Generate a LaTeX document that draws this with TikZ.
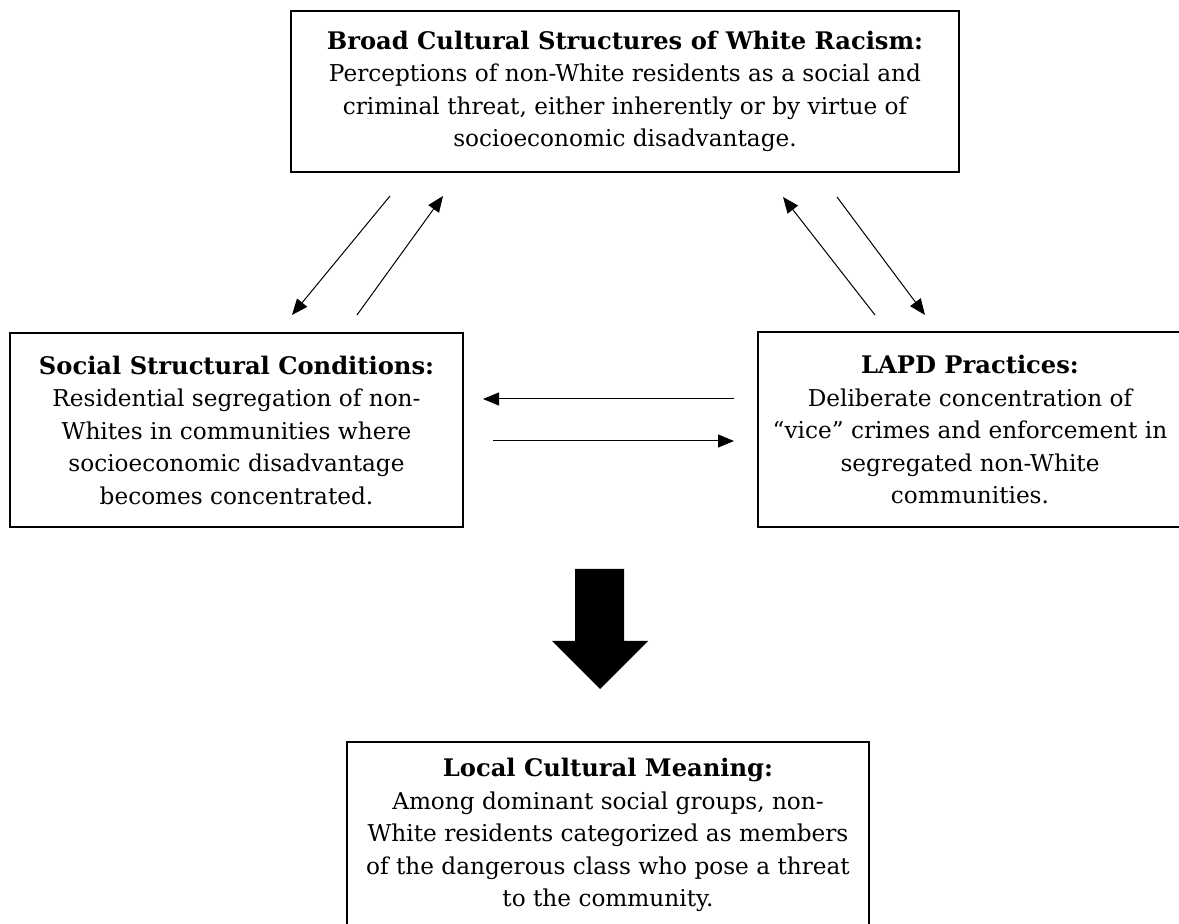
\documentclass[tikz,border=0pt]{standalone}
\usepackage{fontspec}
\setmainfont{DejaVu Serif}
\usetikzlibrary{arrows.meta}

\newcommand{\boxhead}[1]{{\fontsize{12.1}{16.25}\selectfont\textbf{#1}}}

\tikzset{
  box/.style={draw, line width=0.7pt, align=center, inner sep=0pt,
    font=\fontsize{11.6}{16.25}\selectfont},
  link/.style={line width=0.5pt, -{Triangle[length=8pt,width=6.5pt]}}
}

\begin{document}
\begin{tikzpicture}[x=0.5pt,y=-0.5pt]
            \useasboundingbox (0,0) rectangle (1179,924);
            \node[box, minimum width=334pt, minimum height=80.5pt] (racism) at (625,91.5)
              {\boxhead{Broad Cultural Structures of White Racism:}\\
               Perceptions of non-White residents as a social and\\
               criminal threat, either inherently or by virtue of\\
               socioeconomic disadvantage.};
            \node[box, minimum width=226.5pt, minimum height=97pt] (social) at (236.5,430)
              {\boxhead{Social Structural Conditions:}\\
               Residential segregation of non-\\
               Whites in communities where\\
               socioeconomic disadvantage\\
               becomes concentrated.};
            \node[box, minimum width=212pt, minimum height=97.5pt] (lapd) at (970,429.5)
              {\boxhead{LAPD Practices:}\\
               Deliberate concentration of\\
               ``vice'' crimes and enforcement in\\
               segregated non-White\\
               communities.};
            \node[box, minimum width=261pt, minimum height=93pt] (meaning) at (608,835)
              {\boxhead{Local Cultural Meaning:}\\
               Among dominant social groups, non-\\
               White residents categorized as members\\
               of the dangerous class who pose a threat\\
               to the community.};
            % arrow ends
            \coordinate (rs1) at (390,196);  \coordinate (rs2) at (292,315);
            \coordinate (sr1) at (357,315);  \coordinate (sr2) at (443,196);
            \coordinate (lr1) at (875,315);  \coordinate (lr2) at (783,197);
            \coordinate (rl1) at (837,197);  \coordinate (rl2) at (925,315);
            \coordinate (ls1) at (734,399);  \coordinate (ls2) at (483,399);
            \coordinate (sl1) at (493,441);  \coordinate (sl2) at (734,441);
            \draw[link] (rs1) -- (rs2);
            \draw[link] (sr1) -- (sr2);
            \draw[link] (lr1) -- (lr2);
            \draw[link] (rl1) -- (rl2);
            \draw[link] (ls1) -- (ls2);
            \draw[link] (sl1) -- (sl2);
            % big arrow
            \fill[black] (575,569) -- (624,569) -- (624,641) -- (648,641) -- (600,689)
              -- (552,641) -- (575,641) -- cycle;
        \end{tikzpicture}
\end{document}
